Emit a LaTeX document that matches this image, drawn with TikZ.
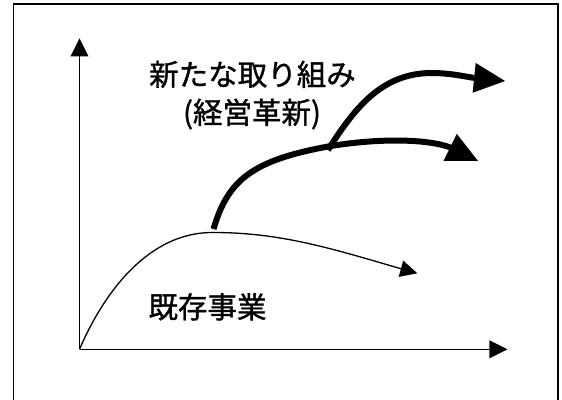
\documentclass[tikz,border=0pt]{standalone}
\usepackage{fontspec}
\newfontfamily\jpfont[FakeBold=1.2]{Noto Sans CJK JP}
\usetikzlibrary{arrows.meta}
\begin{document}
\begin{tikzpicture}[x=1pt,y=-1pt,
  frameline/.style={line width=1.3pt,black},
  axisline/.style={line width=1.4pt,-{Triangle[length=18pt,width=18pt,line width=0pt]}},
  oldcurve/.style={line width=1.3pt,-{Triangle[length=17pt,width=17pt,line width=0pt]}},
  newcurve/.style={line width=6pt,-{Triangle[length=31pt,width=30pt,line width=0pt]}},
  label/.style={font=\jpfont\fontsize{29.5}{38}\selectfont,inner sep=0pt,anchor=base}]
\useasboundingbox (0,0) rectangle (562,399);
\draw[frameline] (13.5,402) -- (13.5,4) -- (558,4) -- (558,402);
% axes
\coordinate (O) at (79.5,349.3);
\coordinate (ytip) at (79.5,38.3);
\coordinate (xtip) at (507.4,349.3);
\draw[axisline] (O) -- (ytip);
\draw[axisline] (O) -- (xtip);
% existing business curve
\coordinate (peak) at (213,232.5);
\coordinate (oldbase) at (400.8,268.7);
\coordinate (oldtip) at (417.3,273.3);
\draw[oldcurve] (O) .. controls (105,290) and (150,232) .. (peak)
  .. controls (280,232.5) and (330,248) .. (oldbase) -- (oldtip);
% new initiatives
\coordinate (nstart) at (213.5,229);
\coordinate (junc) at (331,146);
\coordinate (lowbase) at (450.5,147.5);
\coordinate (lowtip) at (478,161);
\coordinate (upbase) at (472.8,77.7);
\coordinate (uptip) at (505,81);
\draw[newcurve] (nstart) .. controls (228,180) and (252,160) .. (junc)
  .. controls (380,138) and (428,139) .. (lowbase) -- (lowtip);
\draw[newcurve] (328,150) .. controls (358,102) and (385,74) .. (430,73)
  .. controls (450,73) and (462,76) .. (upbase) -- (uptip);
% labels
\node[label] (t1) at (252.5,85.5) {新たな取り組み};
\node[label] (t2) at (252,123.5) {(経営革新)};
\node[label] (t3) at (207.5,318) {既存事業};
\end{tikzpicture}
\end{document}
